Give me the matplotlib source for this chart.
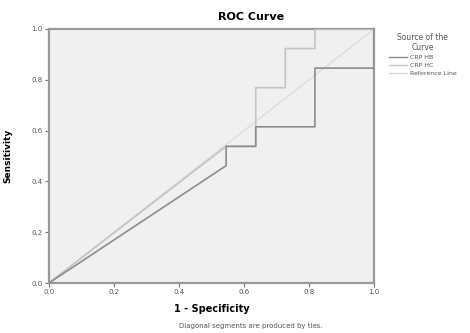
import matplotlib
matplotlib.use("Agg")
import matplotlib.pyplot as plt
from matplotlib.lines import Line2D

# ROC curve data (1 - specificity, sensitivity)
hb_fpr = [0.0, 0.545, 0.545, 0.636, 0.636, 0.818, 0.818, 1.0, 1.0]
hb_tpr = [0.0, 0.462, 0.538, 0.538, 0.615, 0.615, 0.846, 0.846, 1.0]
hc_fpr = [0.0, 0.545, 0.636, 0.636, 0.727, 0.727, 0.818, 0.818, 1.0]
hc_tpr = [0.0, 0.538, 0.538, 0.769, 0.769, 0.923, 0.923, 1.0, 1.0]
ref_x = [0.0, 1.0]
ref_y = [0.0, 1.0]
ticks = [0.0, 0.2, 0.4, 0.6, 0.8, 1.0]
series_names = ["CRP HB", "CRP HC", "Reference Line"]

plt.rcParams['font.family'] = ['DejaVu Sans']
fig = plt.figure(figsize=(4.7, 3.33), dpi=100)
ax = fig.add_axes([0.104, 0.150, 0.692, 0.763])
ax.set_facecolor("#f0f0f0")

ax.plot(ref_x, ref_y, color="#dcdcdc", lw=1.0, zorder=2)
ax.plot(hc_fpr, hc_tpr, color="#c4c4c4", lw=1.2, zorder=3)
ax.plot(hb_fpr, hb_tpr, color="#8c8c8c", lw=1.2, zorder=4)

ax.set_xlim(0, 1)
ax.set_ylim(0, 1)
ax.set_xticks(ticks)
ax.set_yticks(ticks)
ax.set_xticklabels([f"{t:.1f}" for t in ticks], fontsize=5, color="#555555")
ax.set_yticklabels([f"{t:.1f}" for t in ticks], fontsize=5, color="#555555")
ax.tick_params(length=3, width=0.8, color="#777777", pad=1.5)
for s in ax.spines.values():
    s.set_color("#999999")
    s.set_linewidth(1.6)

ax.set_xlabel("1 - Specificity", fontsize=7, fontweight="bold", labelpad=6)
ax.set_ylabel("Sensitivity", fontsize=6.5, fontweight="bold", labelpad=14)

fig.text(251/470, 1 - 17/333, "ROC Curve", fontsize=8, fontweight="bold",
         ha="center", va="center")
fig.text(251/470, 1 - 326/333, "Diagonal segments are produced by ties.",
         fontsize=5, color="#555555", ha="center", va="center")

handles = [Line2D([], [], color="#8c8c8c", lw=1.0),
           Line2D([], [], color="#c4c4c4", lw=1.0),
           Line2D([], [], color="#dcdcdc", lw=1.0)]
leg = fig.legend(handles, series_names, title="Source of the\nCurve",
                 loc="upper left", bbox_to_anchor=(386/470, 1 - 30/333),
                 frameon=False, fontsize=4.5, title_fontsize=5.5,
                 handlelength=3.0, handletextpad=0.4, labelspacing=0.45,
                 borderaxespad=0, alignment="center")
for t in leg.get_texts():
    t.set_color("#555555")
leg.get_title().set_color("#555555")
leg.get_title().set_multialignment("center")

fig.savefig("out.png", dpi=100)
